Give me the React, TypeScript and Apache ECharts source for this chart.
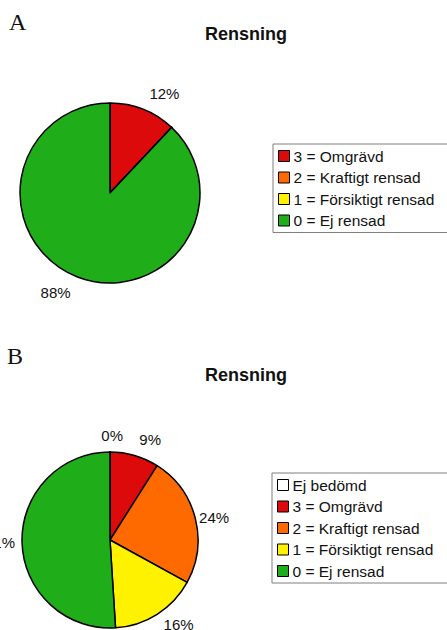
import React, { useEffect, useRef } from "react";
import * as echarts from "echarts";

// Cleaning categories, in legend / clockwise order
const categoriesA = ["3 = Omgrävd", "2 = Kraftigt rensad", "1 = Försiktigt rensad", "0 = Ej rensad"];
const sharesA = [12, 0, 0, 88];

const categoriesB = ["Ej bedömd", "3 = Omgrävd", "2 = Kraftigt rensad", "1 = Försiktigt rensad", "0 = Ej rensad"];
const sharesB = [0, 9, 24, 16, 51];

const panelLetters = ["A", "B"];
const chartTitle = "Rensning";

const colorOf: Record<string, string> = {
  "Ej bedömd": "#ffffff",
  "3 = Omgrävd": "#dc0a0a",
  "2 = Kraftigt rensad": "#ff6a00",
  "1 = Försiktigt rensad": "#fff200",
  "0 = Ej rensad": "#1fae1a",
};

const SANS = "'Liberation Sans', Arial, sans-serif";
const SERIF = "'Liberation Serif', 'Times New Roman', serif";

// label line length per slice (how far outside the rim its percentage sits)
const labelReachA = [17, 17, 17, 17];
const labelReachB = [17, 17, 4, 12, 7];

function buildData(names: string[], values: number[], reach: number[], hideZero: boolean) {
  return names.map((name, i) => {
    const item: any = {
      name,
      value: values[i],
      itemStyle: { color: colorOf[name] },
      labelLine: { show: false, length: reach[i], length2: 0 },
    };
    if (hideZero && values[i] === 0) item.label = { show: false };
    // the zero slice at 12 o'clock gets its label pulled back over the top
    if (!hideZero && values[i] === 0) item.label = { distanceToLabelLine: -13 };
    return item;
  });
}

function pieSeries(center: [number, number], radius: number, data: any[]) {
  return {
    type: "pie",
    center,
    radius,
    startAngle: 90,
    clockwise: true,
    avoidLabelOverlap: false,
    silent: true,
    itemStyle: { borderColor: "#000", borderWidth: 1.5 },
    label: {
      show: true,
      position: "outside",
      formatter: "{d}%",
      color: "#111",
      fontSize: 15,
      fontFamily: SANS,
      distanceToLabelLine: 0,
    },
    labelLine: { show: false },
    emphasis: { disabled: true },
    data,
  };
}

function legend(names: string[], left: number, top: number) {
  return {
    data: names,
    orient: "vertical",
    left,
    top,
    icon: "rect",
    itemWidth: 11,
    itemHeight: 11,
    itemGap: 5.5,
    selectedMode: false,
    borderColor: "#7f7f7f",
    borderWidth: 1,
    padding: [4, 24, 4, 5],
    itemStyle: { borderColor: "#000", borderWidth: 1 },
    textStyle: { color: "#111", fontSize: 15.5, fontFamily: SANS, padding: [0, 0, 0, -1] },
  };
}

export default function App() {
  const ref = useRef<HTMLDivElement>(null);

  useEffect(() => {
    if (!ref.current) return;
    const chart = echarts.init(ref.current, null, { renderer: "svg" });
    chart.setOption({
      animation: false,
      backgroundColor: "#ffffff",
      title: [
        {
          text: chartTitle,
          left: 241,
          top: 20,
          textAlign: "center",
          textStyle: { fontSize: 18, fontWeight: "bold", color: "#111", fontFamily: SANS },
        },
        {
          text: chartTitle,
          left: 241,
          top: 361,
          textAlign: "center",
          textStyle: { fontSize: 18, fontWeight: "bold", color: "#111", fontFamily: SANS },
        },
      ],
      legend: [legend(categoriesA, 273, 144), legend(categoriesB, 272, 473)],
      graphic: [
        {
          type: "text",
          left: 9,
          top: 10,
          style: { text: panelLetters[0], fontSize: 24, fontFamily: SERIF, fill: "#111" },
        },
        {
          type: "text",
          left: 7,
          top: 344,
          style: { text: panelLetters[1], fontSize: 24, fontFamily: SERIF, fill: "#111" },
        },
      ],
      series: [
        pieSeries([110, 193], 90, buildData(categoriesA, sharesA, labelReachA, true)),
        pieSeries([110, 540], 88, buildData(categoriesB, sharesB, labelReachB, false)),
      ],
    });
    return () => chart.dispose();
  }, []);

  return (
    <div
      ref={ref}
      style={{ position: "absolute", left: 0, top: 0, width: 447, height: 630, background: "#fff" }}
    />
  );
}
